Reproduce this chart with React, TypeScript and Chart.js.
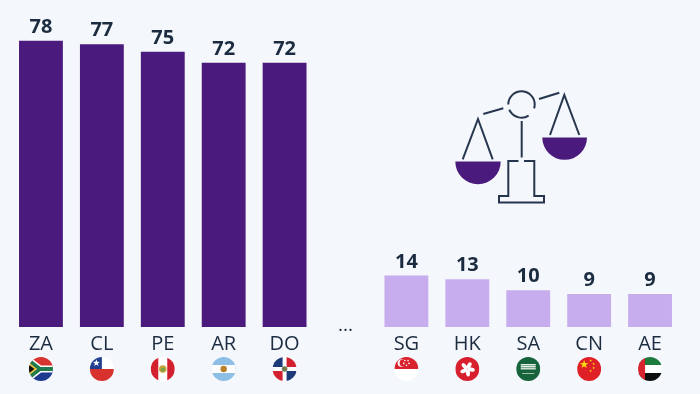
import React, { useEffect, useRef } from "react";
import { Chart, registerables } from "chart.js";

Chart.register(...registerables);

const GAP = "...";
const categories = ["ZA", "CL", "PE", "AR", "DO", GAP, "SG", "HK", "SA", "CN", "AE"];
const values = [78, 77, 75, 72, 72, null, 14, 13, 10, 9, 9];
const highGroup = ["ZA", "CL", "PE", "AR", "DO"];

const DARK = "#4a1a7c";
const LIGHT = "#c8adee";
const INK = "#1b2c40";
const BG = "#f4f7fb";
const FONT = '"Open Sans", sans-serif';

type C = CanvasRenderingContext2D;

function star(c: C, x: number, y: number, r: number, color: string) {
  c.fillStyle = color;
  c.beginPath();
  for (let i = 0; i < 10; i++) {
    const a = -Math.PI / 2 + (i * Math.PI) / 5;
    const q = i % 2 ? r * 0.42 : r;
    c.lineTo(x + Math.cos(a) * q, y + Math.sin(a) * q);
  }
  c.closePath();
  c.fill();
}
function rect(c: C, color: string, x: number, y: number, w: number, h: number) {
  c.fillStyle = color;
  c.fillRect(x, y, w, h);
}
function dot(c: C, color: string, x: number, y: number, r: number) {
  c.fillStyle = color;
  c.beginPath();
  c.arc(x, y, r, 0, Math.PI * 2);
  c.fill();
}

// Each flag is drawn around (0,0) inside a circle of radius 12.
const flags: Record<string, (c: C) => void> = {
  ZA(c) {
    rect(c, "#d8342f", -12, -12, 24, 12);
    rect(c, "#1d3a8f", -12, 0, 24, 12);
    c.lineJoin = "miter";
    c.strokeStyle = "#ffffff";
    c.lineWidth = 7;
    c.beginPath();
    c.moveTo(-14, -10); c.lineTo(-1, 0); c.lineTo(14, 0); c.moveTo(-1, 0); c.lineTo(-14, 10);
    c.stroke();
    c.strokeStyle = "#1f7a4c";
    c.lineWidth = 4;
    c.stroke();
    c.fillStyle = "#f3c12e";
    c.beginPath(); c.moveTo(-13, -7); c.lineTo(-4, 0); c.lineTo(-13, 7); c.fill();
    c.fillStyle = "#111111";
    c.beginPath(); c.moveTo(-13, -5); c.lineTo(-6.5, 0); c.lineTo(-13, 5); c.fill();
  },
  CL(c) {
    rect(c, "#ffffff", -12, -12, 24, 12);
    rect(c, "#d8322e", -12, 0, 24, 12);
    rect(c, "#20408f", -12, -12, 12, 12);
    star(c, -5.5, -6, 3.6, "#ffffff");
  },
  PE(c) {
    rect(c, "#ffffff", -12, -12, 24, 24);
    rect(c, "#d3202f", -12, -12, 7.5, 24);
    rect(c, "#d3202f", 4.5, -12, 7.5, 24);
    dot(c, "#c9a23a", 0, 0, 3.8);
    dot(c, "#6fa34a", 0, 0.6, 2);
  },
  AR(c) {
    rect(c, "#8dbfe6", -12, -12, 24, 24);
    rect(c, "#ffffff", -12, -4, 24, 8);
    dot(c, "#b9802a", 0, 0, 3.2);
  },
  DO(c) {
    rect(c, "#ffffff", -12, -12, 24, 24);
    rect(c, "#1d3a78", -12, -12, 10, 10);
    rect(c, "#d3202f", 2, -12, 10, 10);
    rect(c, "#d3202f", -12, 2, 10, 10);
    rect(c, "#1d3a78", 2, 2, 10, 10);
    dot(c, "#6f7a50", 0, 0, 2.8);
  },
  SG(c) {
    rect(c, "#d8232f", -12, -12, 24, 12);
    rect(c, "#ffffff", -12, 0, 24, 12);
    dot(c, "#ffffff", -5, -6, 3.8);
    dot(c, "#d8232f", -3.4, -6, 3.4);
    dot(c, "#ffffff", -1.5, -8.4, 0.8);
    dot(c, "#ffffff", 1.6, -8.4, 0.8);
    dot(c, "#ffffff", 2.6, -5.6, 0.8);
    dot(c, "#ffffff", 0, -3.8, 0.8);
    dot(c, "#ffffff", -2.6, -5.6, 0.8);
  },
  HK(c) {
    rect(c, "#d81f2e", -12, -12, 24, 24);
    for (let i = 0; i < 5; i++) {
      c.save();
      c.rotate((i * 2 * Math.PI) / 5 + 0.2);
      c.fillStyle = "#ffffff";
      c.beginPath();
      c.ellipse(1, -3.8, 2, 3.6, 0.35, 0, Math.PI * 2);
      c.fill();
      c.restore();
    }
  },
  SA(c) {
    rect(c, "#17633c", -12, -12, 24, 24);
    rect(c, "#e6efe9", -7.5, -5, 15, 1.5);
    rect(c, "#e6efe9", -7.5, -3, 15, 1.5);
    rect(c, "#cfe0d6", -7.5, -1, 15, 1.5);
    rect(c, "#b5cfc0", -6, 4, 12, 0.9);
  },
  CN(c) {
    rect(c, "#df2027", -12, -12, 24, 24);
    star(c, -5, -4.5, 4.4, "#f8d90f");
    star(c, 1.5, -8.5, 1.4, "#f8d90f");
    star(c, 4.5, -5, 1.4, "#f8d90f");
    star(c, 4.5, -1, 1.4, "#f8d90f");
    star(c, 1.5, 2, 1.4, "#f8d90f");
  },
  AE(c) {
    rect(c, "#ffffff", -12, -12, 24, 24);
    rect(c, "#1f7a3d", -12, -12, 24, 8);
    rect(c, "#0e0e0e", -12, 4, 24, 8);
    rect(c, "#d8232f", -12, -12, 7, 24);
  },
};

function scaleIcon(c: C) {
  c.save();
  c.strokeStyle = "#27364f";
  c.lineWidth = 2;
  c.lineCap = "butt";
  c.lineJoin = "miter";
  const line = (...p: number[]) => {
    c.beginPath();
    c.moveTo(p[0], p[1]);
    for (let i = 2; i < p.length; i += 2) c.lineTo(p[i], p[i + 1]);
    c.stroke();
  };
  c.beginPath(); c.arc(521.5, 104.5, 13.2, Math.PI, 2 * Math.PI + 0.3); c.stroke();
  c.beginPath(); c.arc(521.5, 104.5, 13.2, 1.0, 2.75); c.stroke();
  line(483.3, 114, 503.3, 108.3);
  line(539, 99, 559.3, 92.7);
  line(462.7, 159.3, 478, 119, 492.7, 159.3);
  line(550, 135, 564.3, 95, 579.3, 135);
  line(521.7, 121, 521.7, 157.5);
  line(518.5, 161, 508.3, 161, 508.3, 196, 499, 196, 499, 202.5, 544, 202.5, 544, 196, 534.3, 196, 534.3, 161, 524, 161);
  c.fillStyle = DARK;
  c.beginPath();
  c.moveTo(455.3, 161.5);
  c.lineTo(500.7, 161.5);
  c.arc(478, 161.5, 22.7, 0, Math.PI);
  c.fill();
  c.beginPath();
  c.moveTo(542.3, 137.5);
  c.lineTo(587, 137.5);
  c.arc(564.65, 137.5, 22.35, 0, Math.PI);
  c.fill();
  c.restore();
}

const overlay = {
  id: "overlay",
  afterDatasetsDraw(chart: any) {
    const c: C = chart.ctx;
    const x = chart.scales.x;
    const y = chart.scales.y;
    c.save();
    c.textAlign = "center";
    values.forEach((v, i) => {
      const px = x.getPixelForValue(i);
      if (v === null) {
        c.fillStyle = INK;
        c.font = `400 19px ${FONT}`;
        c.textBaseline = "alphabetic";
        c.fillText(categories[i], px, y.getPixelForValue(0) + 4);
        return;
      }
      c.fillStyle = INK;
      c.font = `700 20px ${FONT}`;
      c.textBaseline = "alphabetic";
      c.fillText(String(v), px, y.getPixelForValue(v) - 8);
      const draw = flags[categories[i]];
      c.save();
      c.translate(px, 369);
      c.beginPath();
      c.arc(0, 0, 12, 0, Math.PI * 2);
      c.clip();
      draw(c);
      c.restore();
    });
    c.restore();
    scaleIcon(c);
  },
};

export default function App() {
  const ref = useRef<HTMLCanvasElement>(null);
  useEffect(() => {
    document.body.style.margin = "0";
    document.body.style.background = BG;
    const chart = new Chart(ref.current!, {
      type: "bar",
      data: {
        labels: categories,
        datasets: [
          {
            data: values,
            backgroundColor: categories.map((k) => (highGroup.includes(k) ? DARK : LIGHT)),
            categoryPercentage: 1,
            barPercentage: 0.72,
          },
        ],
      },
      options: {
        animation: false,
        responsive: false,
        layout: { padding: { left: 10.5, right: 19.5, top: 15, bottom: 0 } },
        plugins: { legend: { display: false }, title: { display: false }, tooltip: { enabled: false } },
        scales: {
          x: {
            grid: { display: false, drawTicks: false },
            border: { display: false },
            afterFit: (s: any) => { s.height = 67; },
            ticks: {
              autoSkip: false,
              maxRotation: 0,
              padding: 5,
              color: INK,
              font: { family: FONT, size: 20, weight: "400" },
              callback: (_: any, i: number) => (categories[i] === GAP ? "" : categories[i]),
            },
          },
          y: { display: false, min: 0, max: 85 },
        },
      },
      plugins: [overlay],
    } as any);
    return () => chart.destroy();
  }, []);
  return (
    <div style={{ width: 700, height: 394, background: BG }}>
      <canvas ref={ref} width={700} height={394} style={{ display: "block" }} />
    </div>
  );
}
